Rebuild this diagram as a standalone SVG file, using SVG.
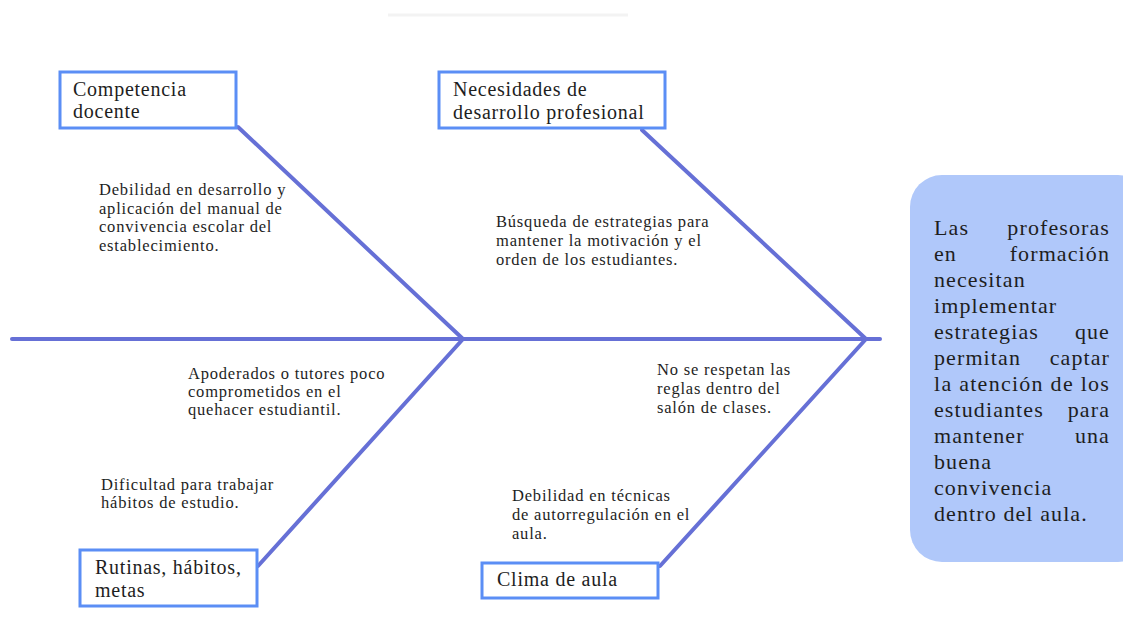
<svg xmlns="http://www.w3.org/2000/svg" width="1123" height="628" viewBox="0 0 1123 628">
<style>
.box{fill:#fff;stroke:#5b8ef5;stroke-width:3}
.bone{stroke:#6670d6;stroke-width:4;fill:none;stroke-linecap:round}
.t{font-family:"Liberation Serif","Times New Roman","DejaVu Serif",serif;fill:#1e1e1e}
.title{font-size:20px;letter-spacing:0.75px}
.body{font-size:16.5px;letter-spacing:0.8px}
.big{font-size:22px;letter-spacing:1.1px}
</style>
<rect width="1123" height="628" fill="#fff"/>
<line x1="388" y1="15" x2="628" y2="15" stroke="#f3f3f3" stroke-width="3"/>
<g id="connectors">
<line class="bone" x1="12" y1="339" x2="880" y2="339"/>
<line class="bone" x1="238" y1="127" x2="463" y2="339"/>
<line class="bone" x1="642" y1="130" x2="866" y2="339"/>
<line class="bone" x1="463" y1="339" x2="258" y2="566"/>
<line class="bone" x1="866" y1="339" x2="660" y2="566"/>
</g>
<g id="competencia">
<rect class="box" x="60" y="72" width="176" height="56"/>
<text class="t title" x="73" y="96">Competencia</text>
<text class="t title" x="73" y="118">docente</text>
</g>
<g id="necesidades">
<rect class="box" x="439" y="72" width="226" height="56"/>
<text class="t title" x="453" y="96">Necesidades de</text>
<text class="t title" x="453" y="119">desarrollo profesional</text>
</g>
<g id="rutinas">
<rect class="box" x="80" y="550" width="177" height="56"/>
<text class="t title" x="95" y="574">Rutinas, hábitos,</text>
<text class="t title" x="95" y="597">metas</text>
</g>
<g id="clima">
<rect class="box" x="482" y="563" width="176" height="35"/>
<text class="t title" x="497" y="586">Clima de aula</text>
</g>
<g id="causa1">
<text class="t body" x="99" y="195">Debilidad en desarrollo y</text>
<text class="t body" x="99" y="214">aplicación del manual de</text>
<text class="t body" x="99" y="232">convivencia escolar del</text>
<text class="t body" x="99" y="251">establecimiento.</text>
</g>
<g id="causa2">
<text class="t body" x="496" y="227">Búsqueda de estrategias para</text>
<text class="t body" x="496" y="246">mantener la motivación y el</text>
<text class="t body" x="496" y="265">orden de los estudiantes.</text>
</g>
<g id="causa3">
<text class="t body" x="188" y="379">Apoderados o tutores poco</text>
<text class="t body" x="188" y="397">comprometidos en el</text>
<text class="t body" x="188" y="415">quehacer estudiantil.</text>
</g>
<g id="causa4">
<text class="t body" x="101" y="490">Dificultad para trabajar</text>
<text class="t body" x="101" y="508">hábitos de estudio.</text>
</g>
<g id="causa5">
<text class="t body" x="657" y="375">No se respetan las</text>
<text class="t body" x="657" y="394">reglas dentro del</text>
<text class="t body" x="657" y="413">salón de clases.</text>
</g>
<g id="causa6">
<text class="t body" x="512" y="501">Debilidad en técnicas</text>
<text class="t body" x="512" y="520">de autorregulación en el</text>
<text class="t body" x="512" y="539">aula.</text>
</g>
<g id="efecto">
<rect x="910" y="175" width="240" height="387" rx="32" fill="#b0c8fa"/>
<text class="t big" x="934" y="235">Las</text><text class="t big" x="1110" y="235" text-anchor="end">profesoras</text>
<text class="t big" x="934" y="261">en</text><text class="t big" x="1110" y="261" text-anchor="end">formación</text>
<text class="t big" x="934" y="287">necesitan</text>
<text class="t big" x="934" y="313">implementar</text>
<text class="t big" x="934" y="339">estrategias</text><text class="t big" x="1110" y="339" text-anchor="end">que</text>
<text class="t big" x="934" y="365">permitan</text><text class="t big" x="1110" y="365" text-anchor="end">captar</text>
<text class="t big" x="934" y="391" textLength="176" lengthAdjust="spacing">la atención de los</text>
<text class="t big" x="934" y="417">estudiantes</text><text class="t big" x="1110" y="417" text-anchor="end">para</text>
<text class="t big" x="934" y="443">mantener</text><text class="t big" x="1110" y="443" text-anchor="end">una</text>
<text class="t big" x="934" y="469">buena</text>
<text class="t big" x="934" y="495">convivencia</text>
<text class="t big" x="934" y="521">dentro del aula.</text>
</g>
</svg>
